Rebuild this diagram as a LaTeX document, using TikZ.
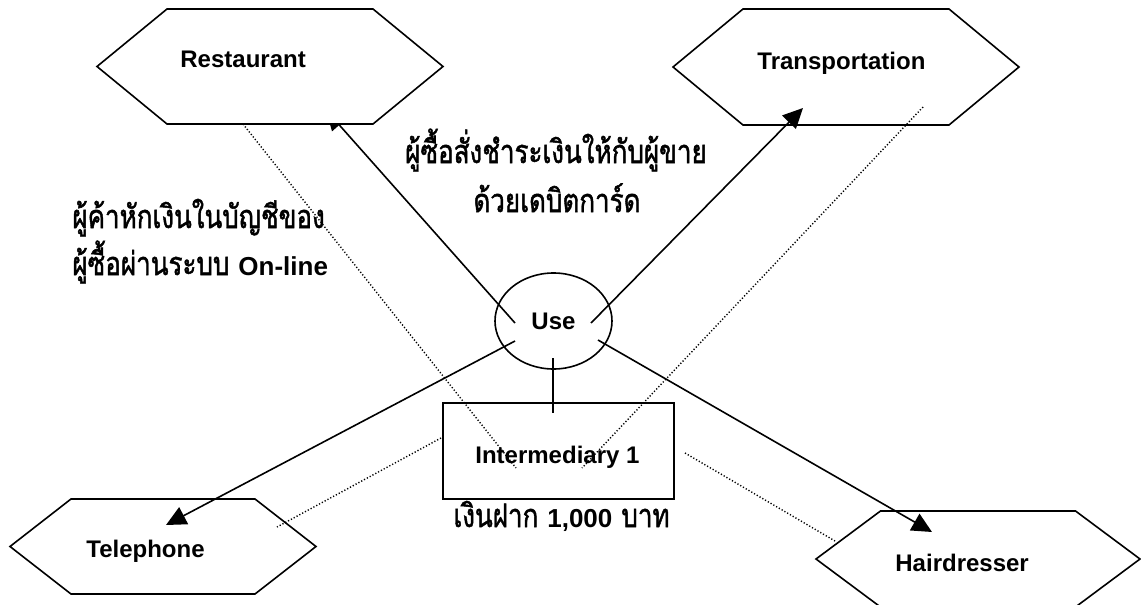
\documentclass[tikz,border=0pt]{standalone}
\usepackage{graphicx}
\usepackage{fontspec}
\setmainfont{Liberation Sans}
\newfontfamily\thai[Script=Thai,FakeBold=1.6]{Loma}
\usetikzlibrary{arrows.meta,shapes.geometric}
\newcommand\hexpath[5]{%
  \draw[hexline] (#1-#3,#2) -- (#1-#3+#5,#2-#4) -- (#1+#3-#5,#2-#4) -- (#1+#3,#2)
    -- (#1+#3-#5,#2+#4) -- (#1-#3+#5,#2+#4) -- cycle;}
\newcommand\thtxt[1]{\scalebox{1}[1.25]{\thai\fontsize{13}{15}\selectfont #1}}
\newcommand\lattxt[1]{{\bfseries\fontsize{13}{15}\selectfont #1}}
\newcommand\gap{\hspace{4.5pt}}
\begin{document}
\begin{tikzpicture}[x=0.5pt,y=-0.5pt,
  hexline/.style={draw, line width=0.8pt, fill=white, line join=miter},
  conn/.style={line width=0.8pt},
  arr/.style={conn, -{Triangle[length=10pt,width=9.5pt]}},
  dots/.style={line width=0.7pt, dash pattern=on 0.6pt off 1pt},
  lbl/.style={font=\bfseries\fontsize{12}{14}\selectfont, anchor=base west, inner sep=0pt},
  thlbl/.style={inner sep=0pt}]
\useasboundingbox (0,0) rectangle (1141,605);
% endpoints
\coordinate (useR) at (515,323);   \coordinate (restTip) at (326,110);
\coordinate (useT) at (591,323);   \coordinate (transTip) at (803,108);
\coordinate (useTel) at (515,341); \coordinate (telTip) at (166,525);
\coordinate (useH) at (598,340);   \coordinate (hairTip) at (932,532);
\coordinate (useI) at (553,358);   \coordinate (interTop) at (553,413);
\coordinate (restDot) at (243,124); \coordinate (interDotL) at (516,468);
\coordinate (transDot) at (923,107); \coordinate (interDotR) at (582,468);
\coordinate (interL) at (441,438); \coordinate (telDot) at (277,527);
\coordinate (interRt) at (685,453); \coordinate (hairDot) at (835,541);
% arrow hidden under Restaurant
\draw[arr] (useR) -- (restTip);
% hexagons
\hexpath{270}{66.5}{173}{57.5}{70}
\hexpath{846}{67}{173}{58}{70}
\hexpath{163}{546.5}{153}{47.5}{61}
\hexpath{978}{559}{162}{48}{64.5}
\node[lbl] (rest) at (180,68) {Restaurant};
\node[lbl] (trans) at (757,69) {Transportation};
\node[lbl] (tel) at (86,557) {Telephone};
\node[lbl] (hair) at (895,571) {Hairdresser};
% centre nodes
\node[draw, ellipse, line width=0.8pt, inner sep=0pt, minimum width=58.5pt, minimum height=48pt,
  font=\bfseries\fontsize{12}{14}\selectfont] (use) at (553.5,321) {Use};
\node[draw, line width=0.8pt, minimum width=115.5pt, minimum height=48pt, inner sep=0pt] (inter) at (558.5,451) {};
\node[lbl] (intertxt) at (475,463) {Intermediary 1};
% connectors
\draw[arr] (useT) -- (transTip);
\draw[arr] (useTel) -- (telTip);
\draw[arr] (useH) -- (hairTip);
\draw[conn] (useI) -- (interTop);
\draw[dots] (restDot) -- (interDotL);
\draw[dots] (transDot) -- (interDotR);
\draw[dots] (interL) -- (telDot);
\draw[dots] (interRt) -- (hairDot);
% Thai labels
\node[thlbl, anchor=base] (t1) at (556,163) {\thtxt{ผู้ซื้อสั่งชำระเงินให้กับผู้ขาย}};
\node[thlbl, anchor=base] (t2) at (557,212) {\thtxt{ด้วยเดบิตการ์ด}};
\node[thlbl, anchor=base west] (t3) at (72,228) {\thtxt{ผู้ค้าหักเงินในบัญชีของ}};
\node[thlbl, anchor=base west] (t4) at (72,275) {\thtxt{ผู้ซื้อผ่านระบบ}\gap\lattxt{On-line}};
\node[thlbl, anchor=base west] (t5) at (453,527) {\thtxt{เงินฝาก}\gap\lattxt{1,000}\gap\thtxt{บาท}};
\end{tikzpicture}
\end{document}
